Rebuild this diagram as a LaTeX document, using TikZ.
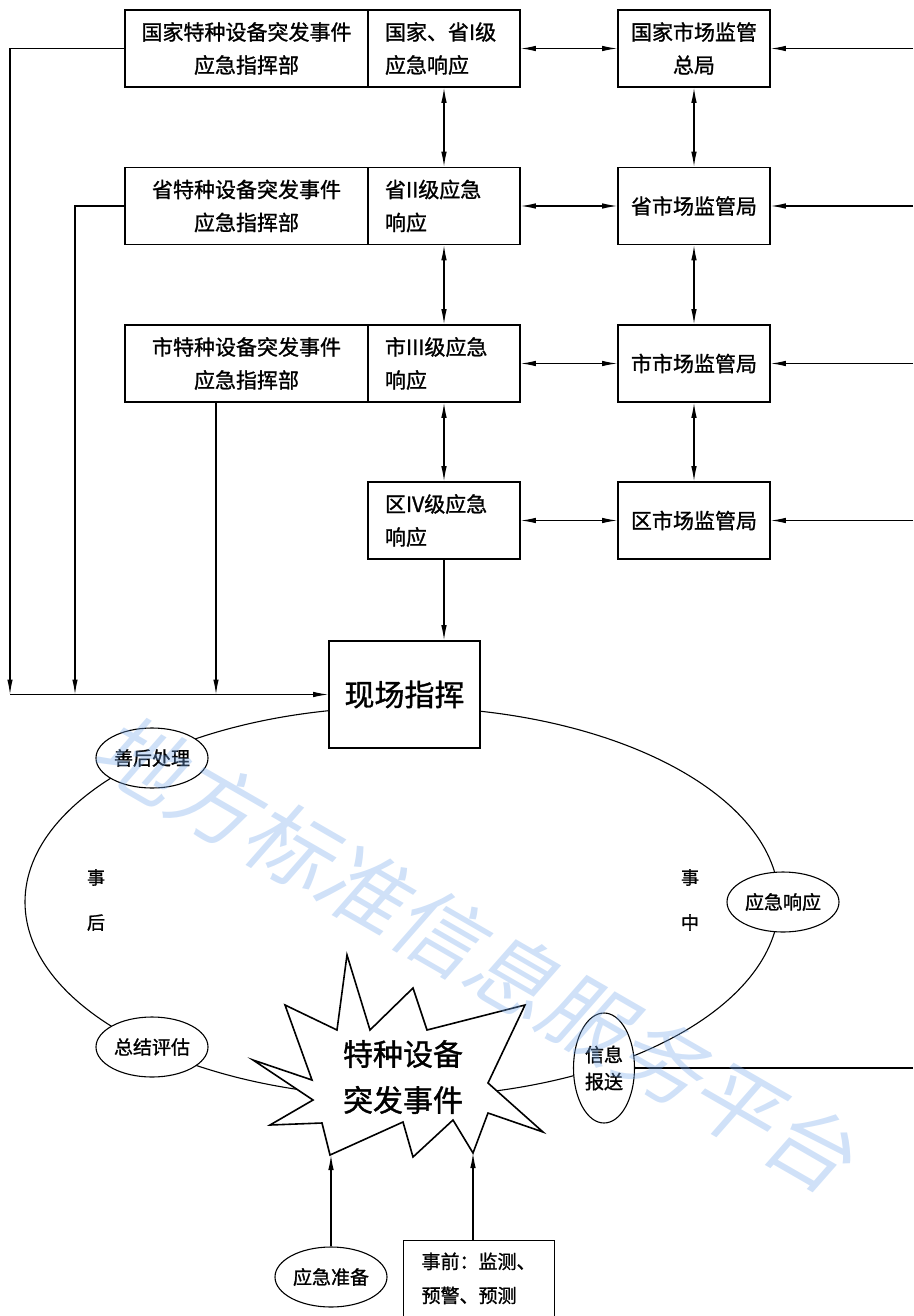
\documentclass[tikz,border=0pt]{standalone}
\usepackage{fontspec}
\newfontfamily\cjk[FakeBold=1.2]{Noto Sans CJK SC}
\newfontfamily\cjkslant[FakeSlant=0.2]{Noto Sans CJK SC}
\usetikzlibrary{shapes.geometric,arrows.meta}
\definecolor{wmblue}{RGB}{120,170,235}

\begin{document}
\begin{tikzpicture}[x=1pt, y=-1pt, font=\cjk\fontsize{21}{33}\selectfont,
	box/.style={draw, rectangle, line width=1.6pt, inner sep=0pt, minimum height=77pt},
	cmd/.style={box, minimum width=243pt, align=center},
	resp/.style={box, minimum width=152pt, text width=118pt, align=left},
	mkt/.style={box, minimum width=152pt, align=center},
	oval/.style={draw, ellipse, line width=1.1pt, fill=white, inner sep=0pt, minimum width=112pt, minimum height=60pt, align=center, font=\cjk\fontsize{19}{27}\selectfont},
	link/.style={line width=1.1pt},
	arr/.style={link, -{Latex[length=15pt, width=5.5pt]}},
	both/.style={link, {Latex[length=15pt, width=5.5pt]}-{Latex[length=15pt, width=5.5pt]}}]
				\useasboundingbox (0,0) rectangle (913,1316);
				% cycle of the event
				\node[draw, ellipse, line width=1.1pt, inner sep=0pt, minimum width=754pt, minimum height=390pt] (cyc) at (402,902) {};
				% command and response levels
				\node[cmd] (C1) at (246.5,48.5) {国家特种设备突发事件\\应急指挥部};
				\node[resp] (R1) at (444,48.5) {国家、省I级\\应急响应};
				\node[mkt] (M1) at (694,48.5) {国家市场监管\\总局};
				\node[cmd] (C2) at (246.5,206) {省特种设备突发事件\\应急指挥部};
				\node[resp] (R2) at (444,206) {省II级应急\\响应};
				\node[mkt] (M2) at (694,206) {省市场监管局};
				\node[cmd] (C3) at (246.5,363.5) {市特种设备突发事件\\应急指挥部};
				\node[resp] (R3) at (444,363.5) {市III级应急\\响应};
				\node[mkt] (M3) at (694,363.5) {市市场监管局};
				\node[resp] (R4) at (444,520.5) {区IV级应急\\响应};
				\node[mkt] (M4) at (694,520.5) {区市场监管局};
				\node[draw, fill=white, line width=1.6pt, minimum width=151pt, minimum height=107pt, font=\cjk\fontsize{30}{36}\selectfont] (X) at (404.5,694.5) {现场指挥};
				% burst
				\draw[line width=1.6pt, fill=white] (347,955) -- (370,1030) -- (413,988) -- (427,1030) -- (525,1005) -- (488,1083) -- (543,1132) -- (488,1113) -- (473,1153) -- (453,1120) -- (413,1157) -- (403,1122) -- (330,1155) -- (322,1123) -- (270,1125) -- (313,1100) -- (253,1060) -- (312,1080) -- (285,1005) -- (337,1030) -- cycle;
				\node[align=center, font=\cjk\fontsize{30}{46}\selectfont] (EV) at (403,1077) {特种设备\\突发事件};
				\coordinate (S1) at (331,1155);
				\coordinate (S2) at (473,1153);
				% stages
				\node[oval] (O1) at (152,758) {善后处理};
				\node[oval] (O2) at (783,902) {应急响应};
				\node[oval, minimum width=61pt, minimum height=110pt] (O3) at (604,1068) {信息\\报送};
				\node[oval] (O4) at (152,1047) {总结评估};
				\node[oval] (O5) at (331,1277) {应急准备};
				\node[draw, line width=1.1pt, anchor=north west, align=left, text width=115pt, inner xsep=18pt, inner ysep=12pt, text depth=50pt, font=\cjk\fontsize{19}{34}\selectfont] (B) at (403,1240) {事前：监测、\\预警、预测};
				\node[align=center, font=\cjk\fontsize{18}{45}\selectfont] (T1) at (96,900) {事\\后};
				\node[align=center, font=\cjk\fontsize{18}{45}\selectfont] (T2) at (690,900) {事\\中};
				% connectors
				\foreach \i in {1,...,4} \draw[both] (R\i) -- (M\i);
				\foreach \i/\j in {1/2,2/3,3/4} {
					\draw[both] (R\i) -- (R\j);
					\draw[both] (M\i) -- (M\j);
				}
				\foreach \i/\y in {1/48.5,2/206,3/363.5,4/520.5} {
					\coordinate (E\i) at (913,\y);
					\draw[arr] (E\i) -- (M\i);
				}
				\coordinate (J1) at (10,694.5);
				\coordinate (J2) at (75,694.5);
				\coordinate (J3) at (216,694.5);
				\draw[arr] (C1.west) -| (J1);
				\draw[arr] (C2.west) -| (J2);
				\draw[arr] (C3.south -| J3) -- (J3);
				\draw[arr] (J1) -- (X.west);
				\draw[arr] (R4.south) -- (R4.south |- X.north);
				\draw[arr] (O5) -- (S1);
				\draw[arr] (B.north -| S2) -- (S2);
				\coordinate (E5) at (913,1068);
				\draw[link] (O3) -- (E5);
				% watermark
				\node[rotate=-30, text=wmblue, opacity=0.35, font=\cjkslant\fontsize{86}{90}\selectfont] (W) at (475,952) {地方标准信息服务平台};
\end{tikzpicture}
\end{document}
